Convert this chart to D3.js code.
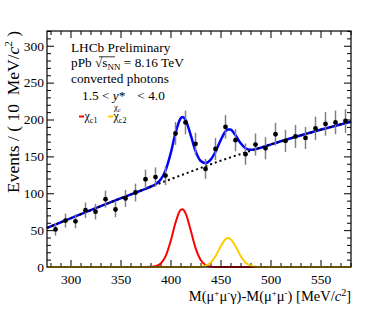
<!DOCTYPE html>
<html>
<head>
<meta charset="utf-8">
<script src="https://cdn.jsdelivr.net/npm/d3@7"></script>
<style>
  body { margin: 0; background: #fff; }
  svg { font-family: "Liberation Serif", "DejaVu Serif", serif; }
  text { white-space: pre; }
</style>
</head>
<body>
<div id="chart"></div>
<script>
// data points: bin centres (MeV/c^2), counts and errors
const massBins = [285, 295, 305, 315, 325, 335, 345, 355, 365, 375,
                  385, 395, 405, 415, 425, 435, 445, 455, 465, 475,
                  485, 495, 505, 515, 525, 535, 545, 555, 565, 575];
const counts = [51, 63, 62, 77, 75, 92, 78, 93, 101, 119,
                122, 124, 181, 196, 167, 133, 160, 190, 172, 153,
                166, 161, 180, 171, 177, 175, 188, 194, 196, 198];
const errors = [8.5, 9.5, 9.5, 10.5, 10.5, 11.5, 10.5, 11.5, 12, 13,
                13, 13, 15.5, 16, 15, 13.5, 15, 16, 15, 14.5,
                15, 15, 15.5, 15, 15.5, 15, 16, 16, 16, 16];

// fit curves
const bkgX = [276.5, 300, 350, 400, 450, 500, 550, 580.5];
const bkgY = [53, 66, 93, 119, 144, 166, 186, 197];

const totalX = [276.5, 300, 350, 370, 375, 380, 385, 390, 395, 400, 405, 410, 412, 415,
                420, 425, 430, 435, 440, 445, 450, 455, 457.5, 460, 465, 470, 475,
                480, 485, 490, 495, 500, 550, 580.5];
const totalY = [53, 66, 93, 103.4, 106, 108.8, 112.2, 118.2, 130.7, 153.2, 181.5, 201.3, 203.4, 199.6,
                179.8, 157.4, 144.1, 140.9, 145.3, 156.3, 171.5, 183.9, 186.6, 186.3, 178.6, 168, 161.1,
                159, 159.8, 161.7, 163.8, 166, 186, 197];

const chic1X = [276.5, 375, 380, 385, 390, 395, 400, 405, 410, 412, 415, 420, 425, 430, 435, 440, 445, 450, 580.5];
const chic1Y = [0, 0, 0.2, 1.0, 4.4, 14.3, 34.2, 60, 77.3, 78.4, 73.1, 50.8, 25.9, 9.7, 2.7, 0.5, 0.1, 0, 0];

const chic2X = [276.5, 425, 430, 435, 440, 445, 450, 455, 457.5, 460, 465, 470, 475, 480, 485, 490, 495, 580.5];
const chic2Y = [0, 0, 0.4, 1.7, 5.8, 14.7, 27.5, 37.7, 39.3, 37.9, 28, 15.2, 6.1, 1.8, 0.4, 0.1, 0, 0];

const xMajor = [300, 350, 400, 450, 500, 550];
const yMajor = [0, 50, 100, 150, 200, 250, 300];

const W = 390, H = 315;
const margin = {top: 31, right: 39, bottom: 48, left: 47};

const svg = d3.select("#chart").append("svg")
    .attr("width", W)
    .attr("height", H);

const x = d3.scaleLinear().domain([276.5, 580.5]).range([margin.left, W - margin.right]);
const y = d3.scaleLinear().domain([0, 320]).range([H - margin.bottom, margin.top]);

const xMinor = d3.range(280, 581, 10).filter(v => !xMajor.includes(v));
const yMinor = d3.range(0, 321, 10).filter(v => !yMajor.includes(v));

// axes, ticks inside the frame (ROOT style)
function drawAxis(axisFn, pos, values, size, labels) {
    const g = svg.append("g")
        .attr("transform", pos)
        .call(axisFn.tickValues(values).tickSize(-size).tickPadding(labels ? 7.5 : 0)
              .tickFormat(labels ? d3.format("d") : ""));
    g.select(".domain").remove();
    g.selectAll("line").attr("stroke", "#000").attr("stroke-width", 1);
    g.selectAll("text").attr("font-size", 13.5).attr("fill", "#000")
        .attr("font-family", "Liberation Serif");
    return g;
}

const yb = y.range()[0], yt = y.range()[1];
const xl = x.range()[0], xr = x.range()[1];

drawAxis(d3.axisBottom(x), `translate(0,${yb})`, xMajor, 7, true);
drawAxis(d3.axisBottom(x), `translate(0,${yb})`, xMinor, 4, false);
drawAxis(d3.axisTop(x), `translate(0,${yt})`, xMajor, 7, false);
drawAxis(d3.axisTop(x), `translate(0,${yt})`, xMinor, 4, false);
const yLab = drawAxis(d3.axisLeft(y), `translate(${xl},0)`, yMajor, 7, true);
yLab.selectAll("text").attr("x", -3);
drawAxis(d3.axisLeft(y), `translate(${xl},0)`, yMinor, 4, false);
drawAxis(d3.axisRight(y), `translate(${xr},0)`, yMajor, 7, false);
drawAxis(d3.axisRight(y), `translate(${xr},0)`, yMinor, 4, false);

// curves
const line = d3.line()
    .x(d => x(d[0]))
    .y(d => y(d[1]))
    .curve(d3.curveMonotoneX);

const plot = svg.append("g");

plot.append("path")
    .datum(d3.zip(totalX, totalY))
    .attr("d", line)
    .attr("fill", "none")
    .attr("stroke", "#0000ff")
    .attr("stroke-width", 2.5);

plot.append("path")
    .datum(d3.zip(bkgX, bkgY))
    .attr("d", line)
    .attr("fill", "none")
    .attr("stroke", "#000")
    .attr("stroke-width", 2)
    .attr("stroke-dasharray", "2,3");

plot.append("path")
    .datum(d3.zip(chic1X, chic1Y))
    .attr("d", line)
    .attr("fill", "none")
    .attr("stroke", "#ff0000")
    .attr("stroke-width", 2);

plot.append("path")
    .datum(d3.zip(chic2X, chic2Y))
    .attr("d", line)
    .attr("fill", "none")
    .attr("stroke", "#ffcc00")
    .attr("stroke-width", 2);

// data points with error bars
const pts = d3.zip(massBins, counts, errors);
plot.selectAll(".err")
    .data(pts)
    .join("line")
    .attr("class", "err")
    .attr("x1", d => x(d[0]))
    .attr("x2", d => x(d[0]))
    .attr("y1", d => y(d[1] - d[2]))
    .attr("y2", d => y(d[1] + d[2]))
    .attr("stroke", "#808080")
    .attr("stroke-width", 1.5);

plot.selectAll(".pt")
    .data(pts)
    .join("circle")
    .attr("class", "pt")
    .attr("cx", d => x(d[0]))
    .attr("cy", d => y(d[1]))
    .attr("r", 2.4)
    .attr("fill", "#000");

// frame
svg.append("rect")
    .attr("x", xl).attr("y", yt)
    .attr("width", xr - xl).attr("height", yb - yt)
    .attr("fill", "none").attr("stroke", "#000").attr("stroke-width", 1.2);

// labels inside the plot
const info = svg.append("g").attr("font-size", 13.3).attr("fill", "#000");
info.append("text").attr("x", 71).attr("y", 51.5).text("LHCb Preliminary");

const t2 = info.append("text").attr("x", 71).attr("y", 67);
t2.append("tspan").text("pPb ");
t2.append("tspan").text("\u221A");
t2.append("tspan").text("s");
t2.append("tspan").attr("font-size", 9).attr("dy", 3).text("NN");
t2.append("tspan").attr("dy", -3).text(" = 8.16 TeV");
info.append("line")
    .attr("x1", 99).attr("x2", 115).attr("y1", 56.8).attr("y2", 56.8)
    .attr("stroke", "#000").attr("stroke-width", 0.8);

info.append("text").attr("x", 71).attr("y", 82.5).text("converted photons");

const t4 = info.append("text").attr("x", 82).attr("y", 100);
t4.append("tspan").text("1.5 < ");
t4.append("tspan").attr("font-style", "italic").text("y");
t4.append("tspan").text("*");
t4.append("tspan").attr("dx", 12).text("< 4.0");
// subscript of y*
const sub = info.append("text").attr("x", 114).attr("y", 110).attr("font-size", 8.5);
sub.append("tspan").text("\u03C7");
sub.append("tspan").attr("font-size", 6.5).attr("dy", 1.5).text("c");

// legend
const legendItems = [
    {label: "c1", color: "#ff0000", x: 79},
    {label: "c2", color: "#ffcc00", x: 108}
];
legendItems.forEach(it => {
    info.append("line")
        .attr("x1", it.x).attr("x2", it.x + 5)
        .attr("y1", 116.5).attr("y2", 116.5)
        .attr("stroke", it.color).attr("stroke-width", 2);
    const t = info.append("text").attr("x", it.x + 5.5).attr("y", 120).attr("font-size", 12);
    t.append("tspan").text("\u03C7");
    t.append("tspan").attr("font-size", 8).attr("dy", 2.5).text(it.label);
});

// axis titles
const xt = svg.append("text")
    .attr("x", 351).attr("y", 300.5)
    .attr("text-anchor", "end")
    .attr("font-size", 14.5);
xt.append("tspan").text("M(\u03BC");
xt.append("tspan").attr("font-size", 9).attr("dy", -5).text("+");
xt.append("tspan").attr("dy", 5).text("\u03BC");
xt.append("tspan").attr("font-size", 9).attr("dy", -5).text("-");
xt.append("tspan").attr("dy", 5).text("\u03B3)-M(\u03BC");
xt.append("tspan").attr("font-size", 9).attr("dy", -5).text("+");
xt.append("tspan").attr("dy", 5).text("\u03BC");
xt.append("tspan").attr("font-size", 9).attr("dy", -5).text("-");
xt.append("tspan").attr("dy", 5).text(") [MeV/");
xt.append("tspan").attr("font-style", "italic").text("c");
xt.append("tspan").attr("font-size", 10).attr("dy", -5).text("2");
xt.append("tspan").attr("dy", 5).text("]");

const yt2 = svg.append("text")
    .attr("transform", "translate(19,31) rotate(-90)")
    .attr("text-anchor", "end")
    .attr("font-size", 17.5);
yt2.append("tspan").text("Events / ( 10  MeV/");
yt2.append("tspan").attr("font-style", "italic").text("c");
yt2.append("tspan").attr("font-size", 11).attr("dy", -7).text("2");
yt2.append("tspan").attr("dy", 7).text(" )");
</script>
</body>
</html>
